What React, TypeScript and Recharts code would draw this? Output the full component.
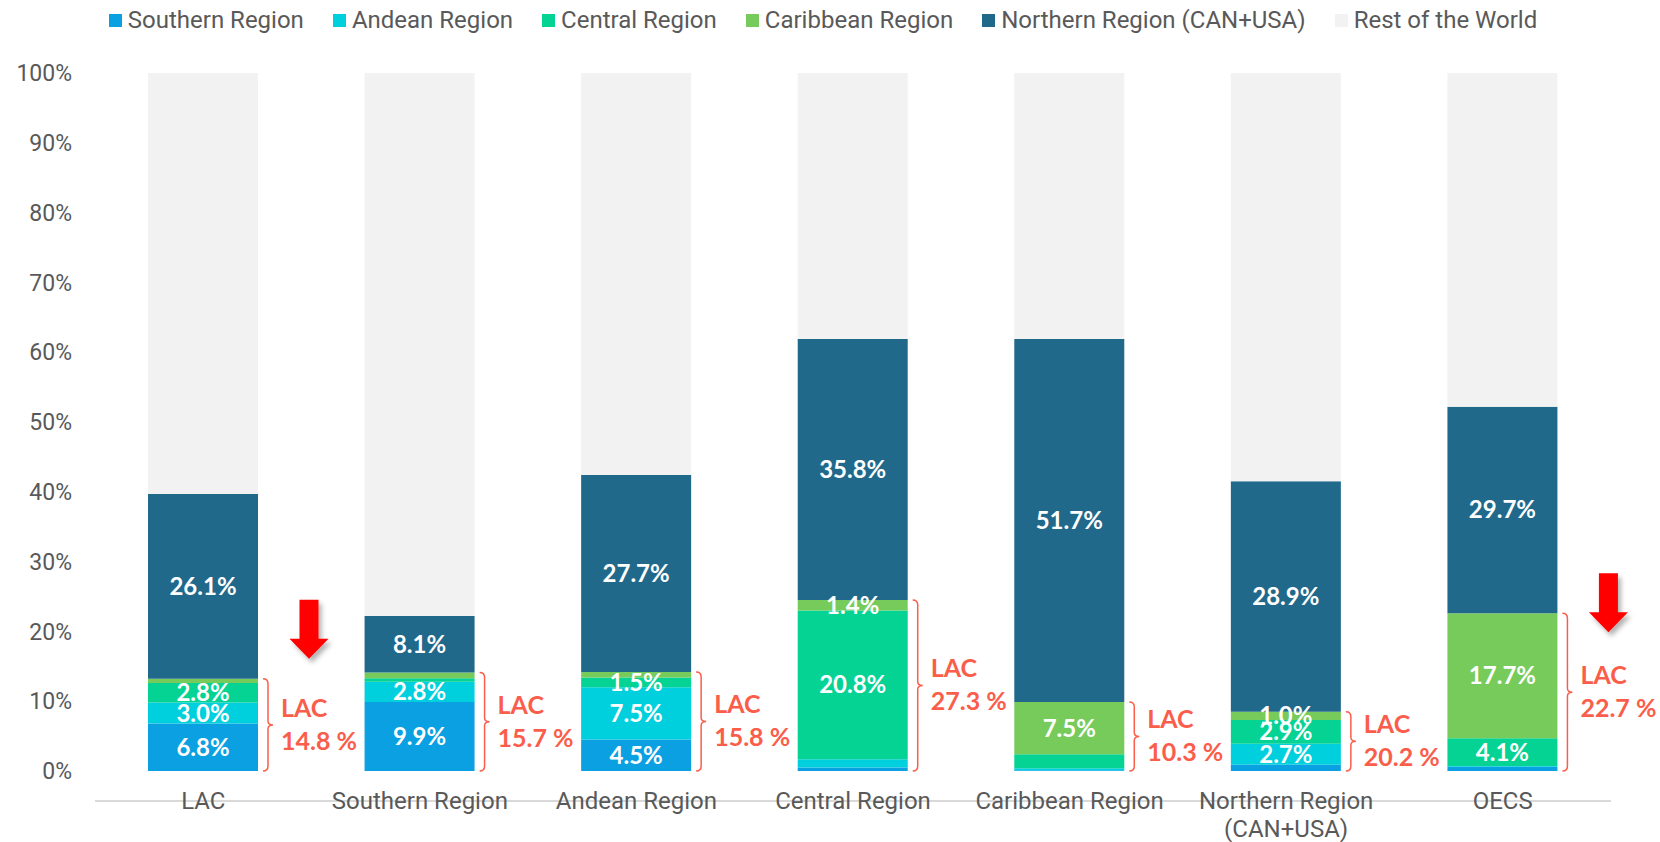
import React from 'react';
import { BarChart, Bar, XAxis, YAxis, LabelList } from 'recharts';

const categories = [
  'LAC',
  'Southern Region',
  'Andean Region',
  'Central Region',
  'Caribbean Region',
  'Northern Region (CAN+USA)',
  'OECS',
];

// segment heights (%)
const southern = [6.8, 9.9, 4.5, 0.5, 0.1, 0.9, 0.6];
const andean = [3.0, 2.9, 7.5, 1.2, 0.3, 3.0, 0.1];
const central = [2.8, 0.5, 1.4, 21.3, 2.0, 3.4, 4.0];
const caribbean = [0.6, 0.8, 0.8, 1.5, 7.5, 1.2, 17.9];
const northern = [26.5, 8.1, 28.2, 37.4, 52.0, 33.0, 29.6];
const restOfWorld = [60.3, 77.8, 57.6, 38.1, 38.1, 58.5, 47.8];

// printed labels on the segments
const southernLabels = ['6.8%', '9.9%', '4.5%', '', '', '', ''];
const andeanLabels = ['3.0%', '2.8%', '7.5%', '', '', '2.7%', ''];
const centralLabels = ['2.8%', '', '1.5%', '20.8%', '', '2.9%', '4.1%'];
const caribbeanLabels = ['', '', '', '1.4%', '7.5%', '1.0%', '17.7%'];
const northernLabels = ['26.1%', '8.1%', '27.7%', '35.8%', '51.7%', '28.9%', '29.7%'];
const lacShare = ['14.8 %', '15.7 %', '15.8 %', '27.3 %', '10.3 %', '20.2 %', '22.7 %'];

const yTicks = [0, 10, 20, 30, 40, 50, 60, 70, 80, 90, 100];

const seriesNames = [
  'Southern Region',
  'Andean Region',
  'Central Region',
  'Caribbean Region',
  'Northern Region (CAN+USA)',
  'Rest of the World',
];
const seriesColors = ['#0aa0e1', '#00cfdd', '#05d394', '#77cb5a', '#21698b', '#f2f2f2'];

const RED = '#fb5d4b';
const GREY = '#595959';

const data = categories.map((name, i) => ({
  name,
  southern: southern[i],
  andean: andean[i],
  central: central[i],
  caribbean: caribbean[i],
  northern: northern[i],
  rest: restOfWorld[i],
  sLabel: southernLabels[i],
  aLabel: andeanLabels[i],
  cLabel: centralLabels[i],
  crLabel: caribbeanLabels[i],
  nLabel: northernLabels[i],
  lac: southern[i] + andean[i] + central[i] + caribbean[i],
  lacLabel: lacShare[i],
}));

// arrow tip offset from the top of the bracket, only on LAC and OECS
const ARROW_TIP: Record<number, number> = { 0: -20, 6: 19 };

function Bracket(props: any) {
  const vb = props.viewBox || props;
  const { x, y, width, height } = vb;
  const index = props.index;
  const right = x + width;
  const top = y;
  const bottom = y + height;
  const mid = (top + bottom) / 2;
  const lx = right + 10;
  const d = `M${right + 5},${top} Q${lx},${top} ${lx},${top + 5} L${lx},${mid - 4} Q${lx},${mid} ${right + 15},${mid} Q${lx},${mid} ${lx},${mid + 4} L${lx},${bottom - 5} Q${lx},${bottom} ${right + 5},${bottom}`;

  let arrow = null;
  if (ARROW_TIP[index] !== undefined) {
    const cx = right + 51;
    const tip = top + ARROW_TIP[index];
    const a = `M${cx - 9.5},${tip - 59} L${cx + 9.5},${tip - 59} L${cx + 9.5},${tip - 20} L${cx + 19.5},${tip - 20} L${cx},${tip} L${cx - 19.5},${tip - 20} L${cx - 9.5},${tip - 20} Z`;
    arrow = <path d={a} fill="#ff0000" filter="url(#arrowShadow)" />;
  }

  return (
    <g>
      <path d={d} fill="none" stroke={RED} strokeWidth={1.5} />
      <text
        x={right + 23}
        y={mid - 18}
        fill={RED}
        fontFamily="Lato"
        fontWeight={700}
        fontSize={25}
        dominantBaseline="central"
      >
        LAC
      </text>
      <text
        x={right + 23}
        y={mid + 15}
        fill={RED}
        fontFamily="Lato"
        fontWeight={700}
        fontSize={25}
        dominantBaseline="central"
      >
        {props.value}
      </text>
      {arrow}
    </g>
  );
}

function splitLabel(s: string) {
  const lines: string[] = [];
  let cur = '';
  s.split(' ').forEach((w) => {
    if (cur && (cur + ' ' + w).length > 18) {
      lines.push(cur);
      cur = w;
    } else {
      cur = cur ? cur + ' ' + w : w;
    }
  });
  lines.push(cur);
  return lines;
}

function CategoryTick(props: any) {
  const { x, y, payload } = props;
  const lines = splitLabel(String(payload.value));
  return (
    <text x={x} y={y} textAnchor="middle" fill={GREY} fontFamily="Roboto" fontSize={24}>
      {lines.map((l, i) => (
        <tspan key={i} x={x} dy={i === 0 ? 8 : 28}>
          {l}
        </tspan>
      ))}
    </text>
  );
}

const labelStyle = {
  fill: '#ffffff',
  fontFamily: 'Lato',
  fontWeight: 700,
  fontSize: 24,
};

export default function App() {
  return (
    <div
      style={{
        position: 'absolute',
        left: 0,
        top: 0,
        width: 1660,
        height: 842,
        background: '#fff',
      }}
    >
      <div
        style={{
          position: 'absolute',
          top: 5,
          left: 0,
          width: 1660,
          paddingRight: 14,
          boxSizing: 'border-box',
          display: 'flex',
          justifyContent: 'center',
          gap: 29,
          fontFamily: 'Roboto',
          fontSize: 24,
          color: GREY,
          lineHeight: '30px',
        }}
      >
        {seriesNames.map((n, i) => (
          <div key={n} style={{ display: 'flex', alignItems: 'center' }}>
            <span
              style={{
                width: 13,
                height: 13,
                background: seriesColors[i],
                marginRight: 6,
                display: 'inline-block',
              }}
            />
            {n}
          </div>
        ))}
      </div>
      <BarChart
        width={1660}
        height={842}
        data={data}
        margin={{ top: 73, right: 49, bottom: 11, left: 0 }}
      >
        <defs>
          <filter id="arrowShadow" x="-50%" y="-50%" width="200%" height="200%">
            <feDropShadow dx="3" dy="4" stdDeviation="2.5" floodColor="#000" floodOpacity="0.3" />
          </filter>
        </defs>
        <XAxis
          xAxisId="main"
          dataKey="name"
          interval={0}
          tick={<CategoryTick />}
          tickLine={false}
          tickSize={0}
          tickMargin={0}
          height={60}
          axisLine={{ stroke: '#d9d9d9', strokeWidth: 2 }}
        />
        <XAxis xAxisId="br" dataKey="name" hide />
        <YAxis
          domain={[0, 100]}
          ticks={yTicks}
          tickFormatter={(v: number) => `${v}%`}
          axisLine={false}
          tickLine={false}
          tickSize={0}
          tickMargin={23}
          width={95}
          tick={{ fill: GREY, fontSize: 23, fontFamily: 'Roboto' }}
        />
        <Bar xAxisId="main" dataKey="southern" stackId="a" fill={seriesColors[0]} barSize={110} isAnimationActive={false}>
          <LabelList dataKey="sLabel" position="center" {...labelStyle} />
        </Bar>
        <Bar xAxisId="main" dataKey="andean" stackId="a" fill={seriesColors[1]} barSize={110} isAnimationActive={false}>
          <LabelList dataKey="aLabel" position="center" {...labelStyle} />
        </Bar>
        <Bar xAxisId="main" dataKey="central" stackId="a" fill={seriesColors[2]} barSize={110} isAnimationActive={false}>
          <LabelList dataKey="cLabel" position="center" {...labelStyle} />
        </Bar>
        <Bar xAxisId="main" dataKey="caribbean" stackId="a" fill={seriesColors[3]} barSize={110} isAnimationActive={false}>
          <LabelList dataKey="crLabel" position="center" {...labelStyle} />
        </Bar>
        <Bar xAxisId="main" dataKey="northern" stackId="a" fill={seriesColors[4]} barSize={110} isAnimationActive={false}>
          <LabelList dataKey="nLabel" position="center" {...labelStyle} />
        </Bar>
        <Bar xAxisId="main" dataKey="rest" stackId="a" fill={seriesColors[5]} barSize={110} isAnimationActive={false} />
        <Bar xAxisId="br" dataKey="lac" fill="none" barSize={110} isAnimationActive={false}>
          <LabelList dataKey="lacLabel" content={<Bracket />} />
        </Bar>
      </BarChart>
    </div>
  );
}
